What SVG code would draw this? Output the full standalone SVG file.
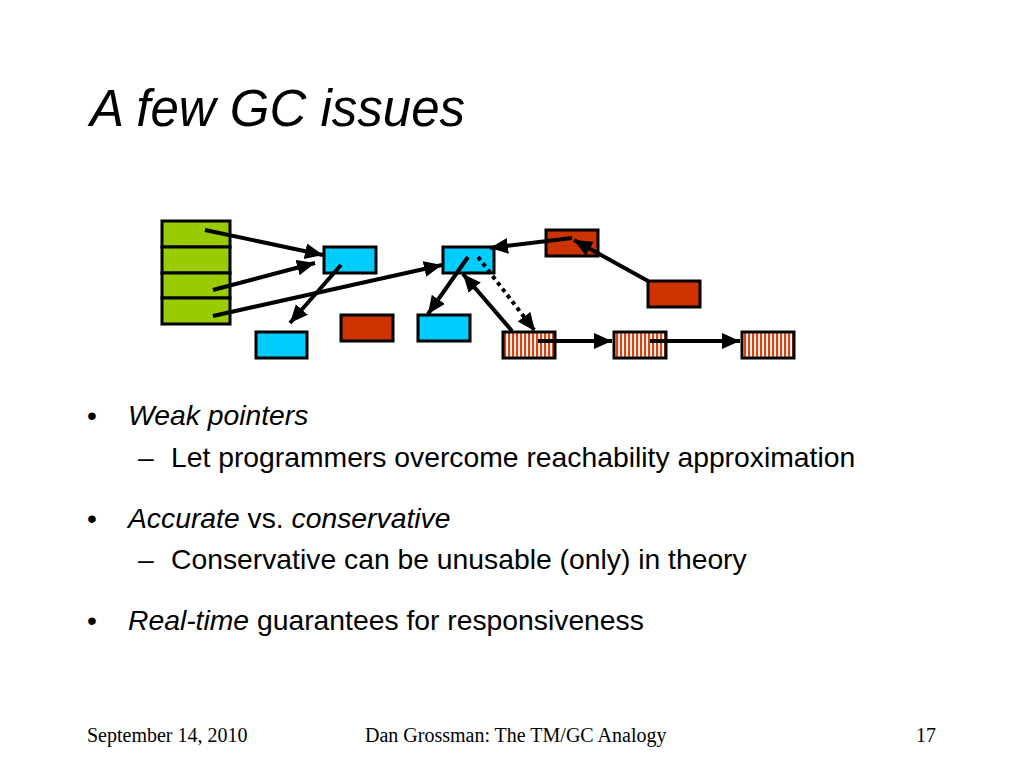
<svg xmlns="http://www.w3.org/2000/svg" width="1024" height="768" viewBox="0 0 1024 768">
<style>
.box{stroke:#000;stroke-width:3}
.g{fill:#99cc00}
.b{fill:#00ccff}
.r{fill:#cc3300}
.s{fill:url(#stripes)}
.c{stroke:#000;stroke-width:4;fill:none;marker-end:url(#ah)}
.dot{stroke-dasharray:4 4}
.t{font-family:"Liberation Sans",Arial,sans-serif;fill:#000}
.f{font-family:"Liberation Serif","Times New Roman",serif;font-size:20px;fill:#000}
</style>
<defs>
<pattern id="stripes" patternUnits="userSpaceOnUse" width="4" height="10">
<rect x="0" y="0" width="4" height="10" fill="#fff"/>
<rect x="0" y="0" width="2.2" height="10" fill="#d4461a"/>
</pattern>
<marker id="ah" markerUnits="userSpaceOnUse" markerWidth="20" markerHeight="18" refX="18" refY="8" orient="auto">
<path d="M0,0 L18,8 L0,16 z" fill="#000"/>
</marker>
</defs>
<rect width="1024" height="768" fill="#fff"/>
<text class="t" x="90" y="126" font-size="51" font-style="italic">A few GC issues</text>

<g id="roots">
<rect class="box g" x="162" y="221" width="68" height="26"/>
<rect class="box g" x="162" y="247" width="68" height="26"/>
<rect class="box g" x="162" y="273" width="68" height="25"/>
<rect class="box g" x="162" y="298" width="68" height="26"/>
</g>
<g id="blue1"><rect class="box b" x="324" y="247" width="52" height="26"/></g>
<g id="blue2"><rect class="box b" x="443" y="247" width="51" height="26"/></g>
<g id="blue3"><rect class="box b" x="256" y="332" width="51" height="26"/></g>
<g id="red1"><rect class="box r" x="341" y="315" width="52" height="26"/></g>
<g id="blue4"><rect class="box b" x="418" y="315" width="52" height="26"/></g>
<g id="red2"><rect class="box r" x="546" y="230" width="52" height="26"/></g>
<g id="red3"><rect class="box r" x="648" y="281" width="52" height="26"/></g>
<g id="weak1"><rect class="box s" x="503" y="332" width="52" height="26"/></g>
<g id="weak2"><rect class="box s" x="614" y="332" width="52" height="26"/></g>
<g id="weak3"><rect class="box s" x="742" y="332" width="52" height="26"/></g>

<g id="connectors">
<line class="c" x1="205" y1="230" x2="323" y2="255"/>
<line class="c" x1="213" y1="290" x2="315" y2="263"/>
<line class="c" x1="213" y1="316" x2="442" y2="265"/>
<line class="c" x1="341" y1="265" x2="290" y2="323"/>
<line class="c" x1="468" y1="257" x2="428" y2="314"/>
<line class="c" x1="512" y1="331" x2="463" y2="274"/>
<line class="c dot" x1="478" y1="257" x2="535" y2="331"/>
<line class="c" x1="572" y1="238" x2="490" y2="248"/>
<line class="c" x1="648" y1="281" x2="574" y2="240"/>
<line class="c" x1="538" y1="341" x2="612" y2="341"/>
<line class="c" x1="650" y1="341" x2="740" y2="341"/>
</g>

<g class="t" font-size="28.3">
<text x="87" y="425">•</text>
<text x="128" y="425" font-style="italic">Weak pointers</text>
<text x="138" y="467">–</text>
<text x="171" y="467">Let programmers overcome reachability approximation</text>
<text x="87" y="528">•</text>
<text x="128" y="528"><tspan font-style="italic">Accurate</tspan> vs. <tspan font-style="italic">conservative</tspan></text>
<text x="138" y="569">–</text>
<text x="171" y="569">Conservative can be unusable (only) in theory</text>
<text x="87" y="630">•</text>
<text x="128" y="630"><tspan font-style="italic">Real-time</tspan> guarantees for responsiveness</text>
</g>

<text class="f" x="87" y="742">September 14, 2010</text>
<text class="f" x="365" y="742">Dan Grossman: The TM/GC Analogy</text>
<text class="f" x="936" y="742" text-anchor="end">17</text>
</svg>
